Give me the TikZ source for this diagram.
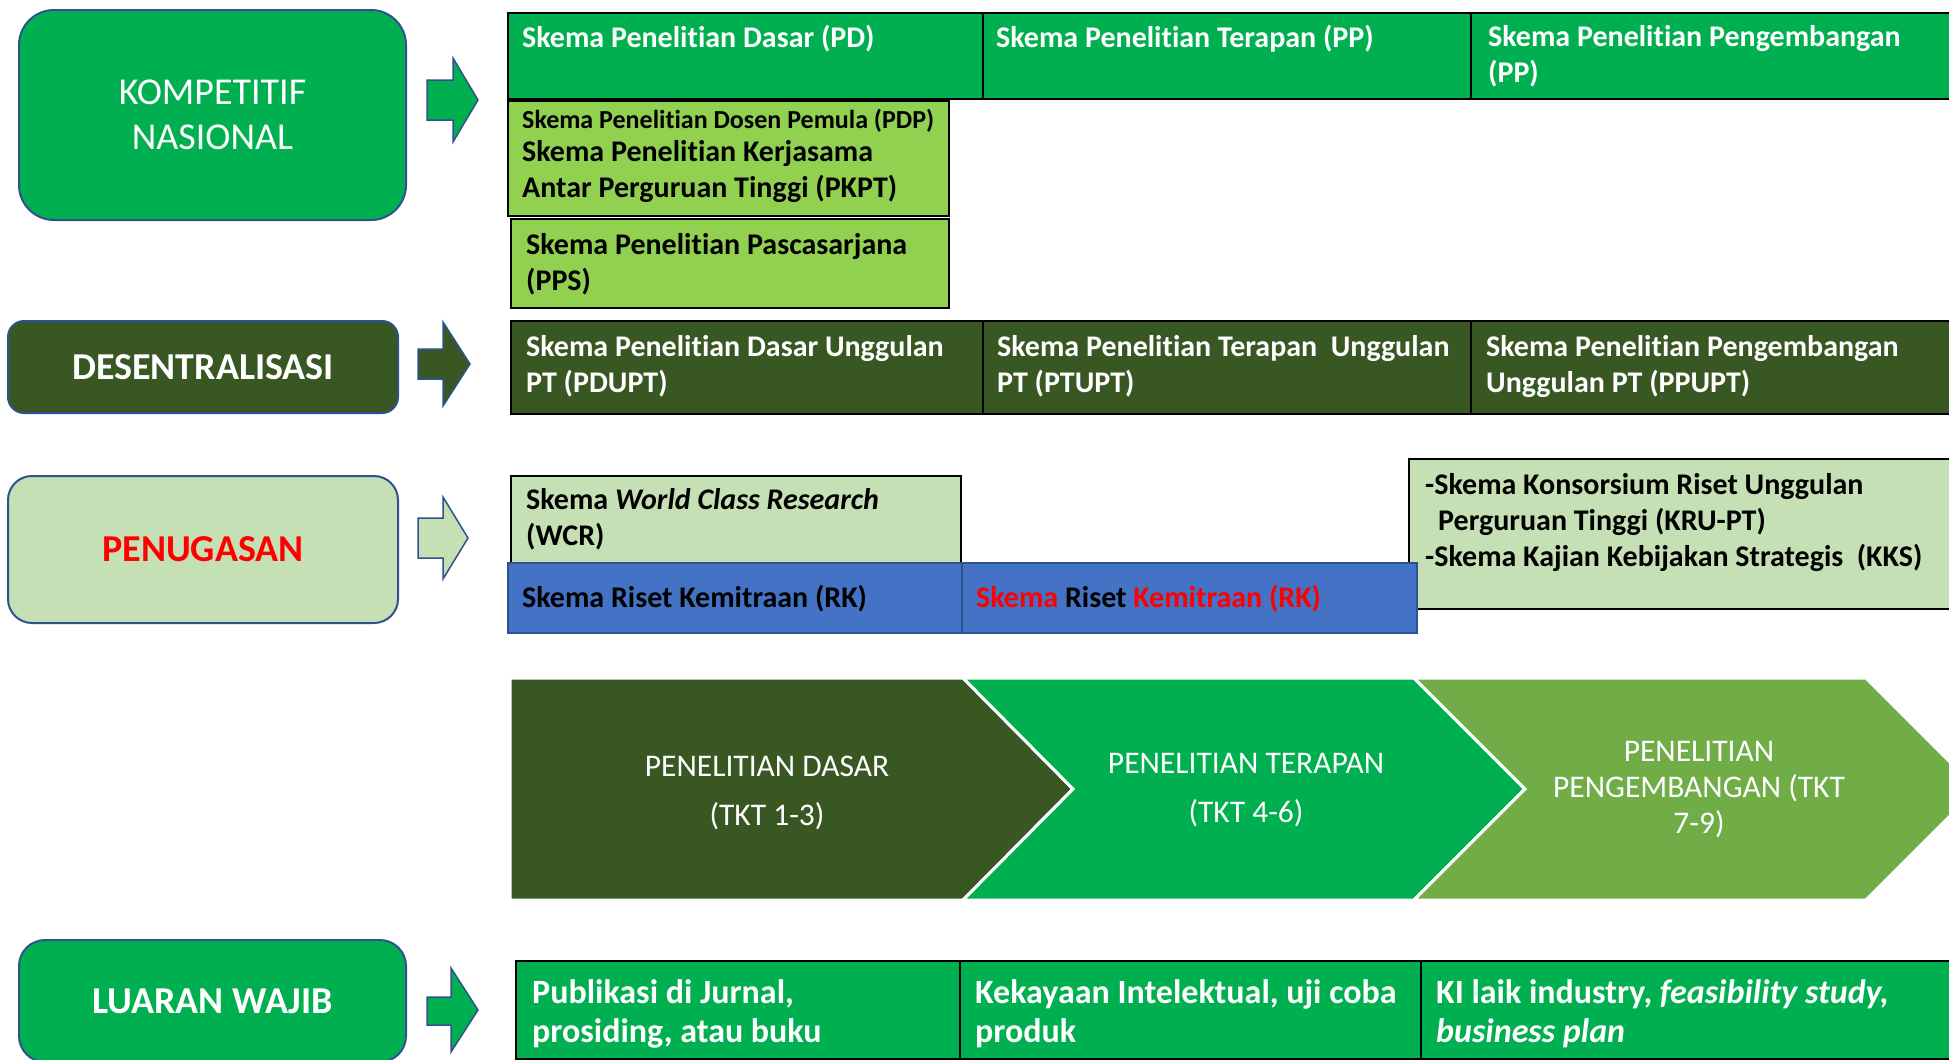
\documentclass[tikz,border=0pt]{standalone}
\usepackage{fontspec}
\setmainfont{Carlito}[Ligatures=NoCommon]
\usetikzlibrary{positioning}
\definecolor{kgreen}{HTML}{00B050}
\definecolor{dgreen}{HTML}{385723}
\definecolor{lgreen}{HTML}{92D050}
\definecolor{pgreen}{HTML}{C5E0B4}
\definecolor{cgreen}{HTML}{70AD47}
\definecolor{rkblue}{HTML}{4472C4}
\definecolor{rimblue}{HTML}{2F528F}
\definecolor{rkred}{HTML}{FF0000}
\newcommand{\headfont}{\fontsize{38}{45}\selectfont}
\newcommand{\cellfont}{\bfseries\fontsize{30}{36}\selectfont}
\newcommand{\pdpfont}{\bfseries\fontsize{26}{30}\selectfont}
\newcommand{\outfont}{\bfseries\fontsize{34}{39}\selectfont}
\newcommand{\chevfont}{\fontsize{31.5}{49}\selectfont}
\tikzstyle{head}=[rectangle,draw=rimblue,line width=2pt,align=center,inner sep=0pt,font=\headfont]
\tikzstyle{cell}=[rectangle,draw=black,line width=2pt,anchor=north west,inner sep=0pt]
\tikzstyle{ctext}=[anchor=north west,inner sep=0pt,align=left,font=\cellfont,execute at begin node={\rule{0pt}{22pt}}]
\tikzstyle{blockarrow}=[draw=rimblue,line width=1.5pt,line join=miter]
\tikzstyle{chev}=[draw=white,line width=3pt,line join=miter]
\tikzstyle{chevtext}=[align=center,text=white,font=\chevfont,inner sep=0pt]

\begin{document}
\begin{tikzpicture}
  [x=1pt,y=-1pt]
\useasboundingbox (0,0) rectangle (1949,1060);
\clip (0,0) rectangle (1949,1060);
% left column
\node[head,fill=kgreen,text=white,rounded corners=35pt,minimum width=387,minimum height=210] (komp) at (212.5,115) {KOMPETITIF\\NASIONAL};
\node[head,fill=dgreen,text=white,font=\headfont\bfseries,rounded corners=16pt,minimum width=390,minimum height=92] (desen) at (203,367) {DESENTRALISASI};
\node[head,fill=pgreen,text=rkred,font=\headfont\bfseries,rounded corners=24pt,minimum width=390,minimum height=147] (tugas) at (203,549.5) {PENUGASAN};
\node[head,fill=kgreen,text=white,font=\headfont\bfseries,rounded corners=26pt,minimum width=387,minimum height=122] (luaran) at (212.5,1001) {LUARAN WAJIB};
% block arrows
\draw[blockarrow,fill=kgreen] (427,80) -- (453,80) -- (453,58) -- (478,100) -- (453,142) -- (453,120) -- (427,120) -- cycle;
\draw[blockarrow,fill=dgreen] (418,349) -- (443,349) -- (443,322) -- (470,364) -- (443,406) -- (443,379) -- (418,379) -- cycle;
\draw[blockarrow,fill=pgreen] (418,518) -- (443,518) -- (443,497) -- (468,538) -- (443,579) -- (443,558) -- (418,558) -- cycle;
\draw[blockarrow,fill=kgreen] (427,997) -- (451,997) -- (451,968) -- (478,1010) -- (451,1052) -- (451,1025) -- (427,1025) -- cycle;
% kompetitif nasional
\node[cell,fill=kgreen,minimum width=475,minimum height=86] (pd) at (507,12) {};
\node[cell,fill=kgreen,minimum width=488,minimum height=86] (pt) at (982,12) {};
\node[cell,fill=kgreen,minimum width=500,minimum height=86] (pg) at (1470,12) {};
\node[ctext,text=white] (pdt) at (522,25) {Skema Penelitian Dasar (PD)};
\node[ctext,text=white] (ptt) at (996,25) {Skema Penelitian Terapan (PP)};
\node[ctext,text=white] (pgt) at (1488,25) {Skema Penelitian Pengembangan\\(PP)};
\node[cell,fill=lgreen,minimum width=441,minimum height=115] (pdp) at (507,100) {};
\node[ctext,font=\pdpfont] (pdpt) at (522,106) {Skema Penelitian Dosen Pemula (PDP)};
\node[ctext] (pkpt) at (522,140) {Skema Penelitian Kerjasama\\Antar Perguruan Tinggi (PKPT)};
\node[cell,fill=lgreen,minimum width=438,minimum height=89] (pps) at (510,218) {};
\node[ctext] (ppst) at (526,233) {Skema Penelitian Pascasarjana\\(PPS)};
% desentralisasi
\node[cell,fill=dgreen,minimum width=472,minimum height=93] (pdupt) at (510,320) {};
\node[cell,fill=dgreen,minimum width=488,minimum height=93] (ptupt) at (982,320) {};
\node[cell,fill=dgreen,minimum width=500,minimum height=93] (ppupt) at (1470,320) {};
\node[ctext,text=white] (pduptt) at (526,335) {Skema Penelitian Dasar Unggulan\\PT (PDUPT)};
\node[ctext,text=white] (ptuptt) at (997,335) {Skema Penelitian Terapan~ Unggulan\\PT (PTUPT)};
\node[ctext,text=white] (ppuptt) at (1486,335) {Skema Penelitian Pengembangan\\Unggulan PT (PPUPT)};
% penugasan
\node[cell,fill=pgreen,minimum width=450,minimum height=87] (wcr) at (510,475) {};
\node[ctext] (wcrt) at (526,488) {Skema \textit{World Class Research}\\(WCR)};
\node[cell,fill=pgreen,minimum width=562,minimum height=150] (kru) at (1408,458) {};
\node[ctext] (krut) at (1425,473) {-Skema Konsorsium Riset Unggulan\\\hspace*{13pt}Perguruan Tinggi (KRU-PT)\\-Skema Kajian Kebijakan Strategis~ (KKS)};
\node[cell,fill=rkblue,draw=rimblue,line width=1.5pt,minimum width=454,minimum height=70] (rk) at (507,562) {};
\node[cell,fill=rkblue,draw=rimblue,line width=1.5pt,minimum width=455,minimum height=70] (rkb) at (961,562) {};
\node[ctext] (rkt) at (522,585) {Skema Riset Kemitraan (RK)};
\node[ctext] (rkbt) at (976,585) {\textcolor{rkred}{Skema} Riset \textcolor{rkred}{Kemitraan (RK)}};
% tahapan penelitian
\filldraw[chev,fill=dgreen] (510,678) -- (963,678) -- (1073,789) -- (963,900) -- (510,900) -- cycle;
\filldraw[chev,fill=kgreen] (963,678) -- (1414,678) -- (1525,789) -- (1414,900) -- (963,900) -- (1073,789) -- cycle;
\filldraw[chev,fill=cgreen] (1414,678) -- (1866,678) -- (1977,789) -- (1866,900) -- (1414,900) -- (1525,789) -- cycle;
\node[chevtext] (dasar) at (767,793) {PENELITIAN DASAR\\(TKT 1-3)};
\node[chevtext] (terapan) at (1246,790) {PENELITIAN TERAPAN\\(TKT 4-6)};
\node[chevtext,font=\fontsize{31.5}{36}\selectfont] (kembang) at (1699,790) {PENELITIAN\\PENGEMBANGAN (TKT\\7-9)};
% luaran wajib
\node[cell,fill=kgreen,minimum width=444,minimum height=98] (jurnal) at (515,960) {};
\node[cell,fill=kgreen,minimum width=461,minimum height=98] (ki) at (959,960) {};
\node[cell,fill=kgreen,minimum width=550,minimum height=98] (bisnis) at (1420,960) {};
\node[ctext,text=white,font=\outfont] (jurnalt) at (532,979) {Publikasi di Jurnal,\\prosiding, atau buku};
\node[ctext,text=white,font=\outfont] (kit) at (975,979) {Kekayaan Intelektual, uji coba\\produk};
\node[ctext,text=white,font=\outfont] (bisnist) at (1436,979) {KI laik industry, \textit{feasibility study,}\\\textit{business plan}};
\end{tikzpicture}
\end{document}
